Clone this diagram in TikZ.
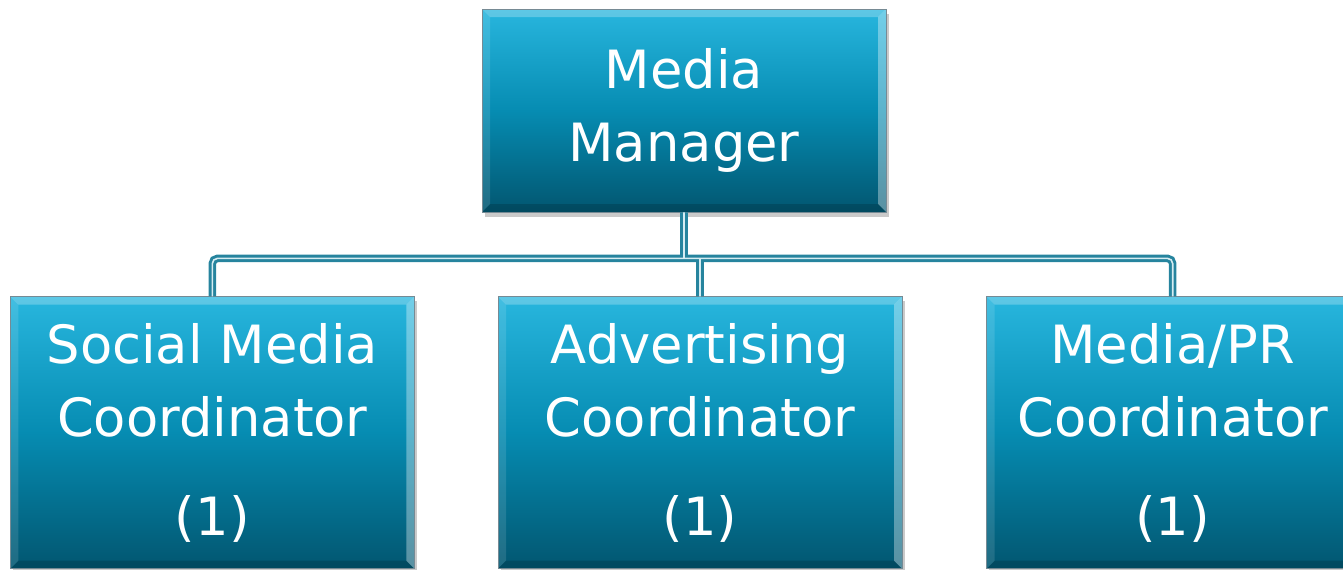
\documentclass[tikz,border=0pt]{standalone}
\usepackage{fontspec}
\setmainfont{DejaVu Sans}
\usetikzlibrary{positioning,calc,shadows}
\definecolor{boxtop}{RGB}{40,182,222}
\definecolor{boxmid}{RGB}{6,140,178}
\definecolor{boxbot}{RGB}{2,86,112}
\definecolor{boxedge}{RGB}{118,138,148}
\definecolor{tubeline}{RGB}{38,132,158}
\definecolor{tubein}{RGB}{214,236,242}
\tikzset{
  rolebox/.style={draw=boxedge, line width=0.4pt, top color=boxtop, bottom color=boxbot,
    middle color=boxmid, align=center, text=white, inner sep=0pt,
    font=\fontsize{30}{42}\selectfont, minimum width=8.08cm,
    drop shadow={shadow xshift=0.05cm, shadow yshift=-0.09cm, opacity=0.35, fill=black!60},
    path picture={
      \coordinate (bnw) at (path picture bounding box.north west);
      \coordinate (bne) at (path picture bounding box.north east);
      \coordinate (bse) at (path picture bounding box.south east);
      \coordinate (bsw) at (path picture bounding box.south west);
      \fill[white, opacity=0.25] (bnw) -- (bne) -- ($(bne)+(-0.16,-0.16)$)
        -- ($(bnw)+(0.16,-0.16)$) -- cycle;
      \fill[white, opacity=0.35] (bne) -- (bse) -- ($(bse)+(-0.16,0.16)$)
        -- ($(bne)+(-0.16,-0.16)$) -- cycle;
      \fill[white, opacity=0.12] (bnw) -- (bsw) -- ($(bsw)+(0.16,0.16)$)
        -- ($(bnw)+(0.16,-0.16)$) -- cycle;
      \fill[black, opacity=0.15] (bsw) -- (bse) -- ($(bse)+(-0.16,0.16)$)
        -- ($(bsw)+(0.16,0.16)$) -- cycle;
    }},
  topbox/.style={rolebox, minimum height=4.06cm},
  subbox/.style={rolebox, minimum height=5.44cm},
  tube/.style={draw=tubeline, line width=1.7pt, double=tubein, double distance=0.9pt,
    rounded corners=3pt},
}

\begin{document}
\begin{tikzpicture}
  \useasboundingbox (0,0) rectangle (26.86,-11.4);
  \node[topbox] (mgr) at (13.68,-2.21) {Media\\Manager};
  \node[subbox, below=1.68cm of mgr, xshift=0.32cm] (advert)
       {Advertising\\Coordinator\\[14pt](1)};
  \node[subbox, left=1.66cm of advert] (social)
       {Social Media\\Coordinator\\[14pt](1)};
  \node[subbox, right=1.68cm of advert, minimum width=7.44cm] (mediapr)
       {Media/PR\\Coordinator\\[14pt](1)};
  \coordinate (bar) at ($(mgr.south)+(0,-0.92)$);
  % one path, so the double line joins cleanly
  \draw[tube] (mgr.south) -- (bar)
    (social.north) |- (bar) -| (mediapr.north)
    (advert.north) -- (advert.north |- bar);
\end{tikzpicture}
\end{document}
